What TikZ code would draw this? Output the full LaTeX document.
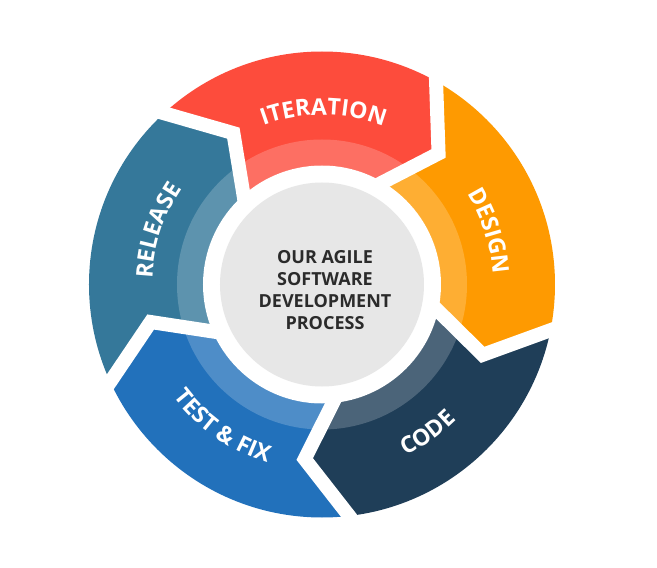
\documentclass[tikz,border=0pt]{standalone}
\usepackage{fontspec}
\setmainfont{Open Sans}
\usetikzlibrary{decorations.text}
\definecolor{cred}{HTML}{FD4C3C}
\definecolor{corange}{HTML}{FE9A01}
\definecolor{cnavy}{HTML}{1F3E58}
\definecolor{cblue}{HTML}{2271BB}
\definecolor{cteal}{HTML}{35789A}
\definecolor{cgray}{HTML}{E7E7E7}
\definecolor{ctext}{HTML}{2B2B2B}
\newcommand\lblfont{\bfseries\fontsize{23}{23}\selectfont}
\tikzset{
  gapline/.style={white, line width=14pt, line join=miter},
  curvelbl/.style={decorate, decoration={text along path, text align=center, text color=white, text={#1}}}
}
\begin{document}
\begin{tikzpicture}[x=1pt,y=1pt]
\useasboundingbox (-322,-283.5) rectangle (335,284.5);
\fill[white] (-322,-283.5) rectangle (335,284.5);
% segments
\begin{scope}
\clip (0,0) circle (233pt);
\foreach \a/\c in {48.35/cred, 120.35/cteal, 192.35/cblue, 264.35/cnavy, 336.35/corange}{
  \pgfmathsetmacro\b{\a+72}
  \fill[\c] (\a+14.55:249) -- (\a:175.4) -- (\a+13.15:112) -- (0,0) -- (\b+13.15:112) -- (\b:175.4) -- (\b+14.55:249)
    arc[start angle=\b+14.55, end angle=\a+14.55, radius=249pt] -- cycle;
}
\end{scope}
% light band
\fill[white, opacity=0.2, even odd rule] (0,0) circle (145pt) (0,0) circle (119pt);
% gaps
\foreach \a in {48.35, 120.35, 192.35, 264.35, 336.35}{
  \draw[gapline] (\a+14.55:249) -- (\a:175.4) -- (\a+13.15:112);
}
\fill[white] (0,0) circle (119pt);
\fill[cgray] (0,0) circle (102pt);
\node[font=\bfseries\fontsize{18}{22}\selectfont, text=ctext, align=center] (title) at (3,-5.5)
  {OUR AGILE\\SOFTWARE\\DEVELOPMENT\\PROCESS};
% curved labels
\path[curvelbl={|\lblfont|ITERATION}] (139.5:169.5) arc[start angle=139.5, end angle=39.5, radius=169.5pt];
\path[curvelbl={|\lblfont|DESIGN}] (67.7:171) arc[start angle=67.7, end angle=-32.3, radius=171pt];
\path[curvelbl={|\lblfont|CODE}] (-104.6:190.5) arc[start angle=-104.6, end angle=-4.6, radius=190.5pt];
\path[curvelbl={|\lblfont|TEST {\&} FIX}] (-175:186.5) arc[start angle=-175, end angle=-75, radius=186.5pt];
\path[curvelbl={|\lblfont|RELEASE}] (211.8:169.5) arc[start angle=211.8, end angle=111.8, radius=169.5pt];
\end{tikzpicture}
\end{document}
